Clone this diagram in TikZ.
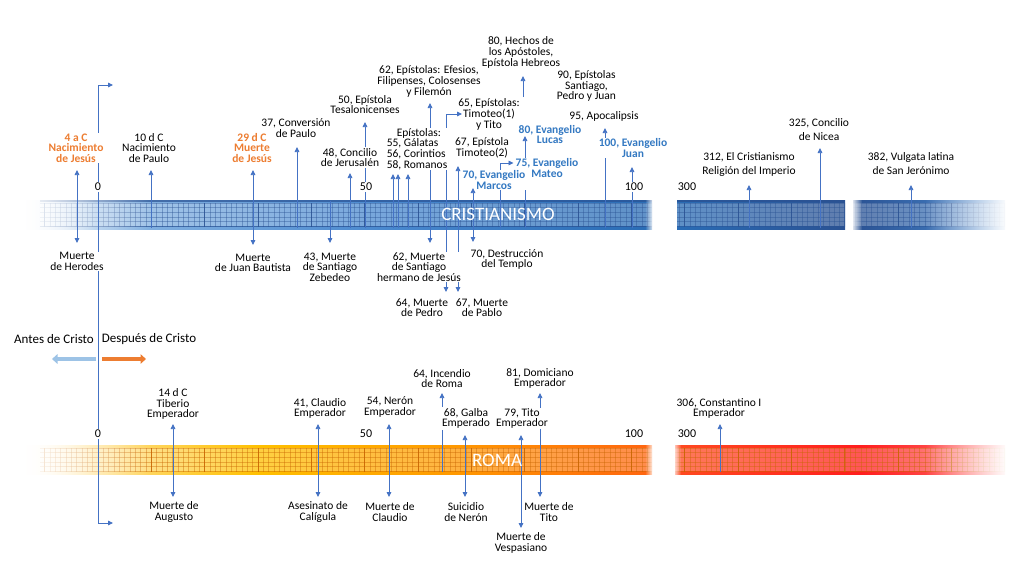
\documentclass[tikz,border=0pt]{standalone}
\usepackage{fontspec}
\setmainfont{Carlito}
\usetikzlibrary{arrows.meta,fadings}
\pgfdeclarelayer{bars}
\pgfdeclarelayer{lines}
\pgfdeclarelayer{front}
\pgfsetlayers{bars,lines,main,front}
\definecolor{cb1}{HTML}{8DB8E4}
\definecolor{cb2}{HTML}{4A89CF}
\definecolor{cb3}{HTML}{2A6CB5}
\definecolor{cb4}{HTML}{2A5293}
\definecolor{ro1}{HTML}{FFE08A}
\definecolor{ro2}{HTML}{FFC000}
\definecolor{ro3}{HTML}{FF9A00}
\definecolor{ro4}{HTML}{FF6410}
\definecolor{rr1}{HTML}{FF4A20}
\definecolor{rr2}{HTML}{FF1E1E}
\definecolor{rr3}{HTML}{FF7070}
\definecolor{roG}{HTML}{C86400}
\definecolor{lnc}{HTML}{4472C4}
\definecolor{orangeT}{HTML}{ED7D31}
\definecolor{blueT}{HTML}{3479C2}
\definecolor{ltblue}{HTML}{9DC3E6}
\tikzfading[name=fadeR, left color=transparent!0, right color=transparent!100]
\tikzfading[name=fadeL, left color=transparent!100, right color=transparent!0]
\tikzset{
  lbl/.style={font=\fontsize{11.5}{10.6}\selectfont, align=center, inner sep=0.8pt, text=black},
  hide/.style={fill=white},
  wide/.style={font=\fontsize{11.5}{14}\selectfont},
  org/.style={text=orangeT, font=\fontsize{11.5}{10.6}\selectfont\bfseries},
  blu/.style={text=blueT, font=\fontsize{11.5}{10.6}\selectfont\bfseries},
  yr/.style={font=\fontsize{12}{12}\selectfont, fill=white, inner sep=0.6pt},
  conn/.style={draw=lnc, line width=0.75pt, -{Triangle[length=5pt,width=4.6pt]}},
  conn2/.style={draw=lnc, line width=0.75pt, {Triangle[length=5pt,width=4.6pt]}-{Triangle[length=5pt,width=4.6pt]}},
  era/.style={font=\fontsize{13}{13}\selectfont, inner sep=0.5pt},
  bartitle/.style={font=\fontsize{19}{19}\selectfont, text=white, inner sep=0pt},
}
\newcommand\tlgrid[4]{%
  \begin{scope}
    \clip (#1,#3+3) rectangle (#2,#3+26);
    \fill[white,opacity=0.25] (#1,#3+3) rectangle (#2,#3+26);
    \foreach \k in {-10,...,170} {\draw[#4,opacity=0.4,line width=0.35pt] ({98+\k*5.3333},#3) -- ++(0,29);}
    \foreach \h in {3,7.6,12.2,16.8,21.4,26} {\draw[#4,opacity=0.4,line width=0.35pt] (#1,#3+\h) -- (#2,#3+\h);}
    \foreach \k in {-1,...,17} {\draw[#4,opacity=0.8,line width=0.9pt] ({98+\k*53.333},#3) -- ++(0,29);}
  \end{scope}}
\newcommand\vlink[5]{\coordinate (#1a) at (#2,#3); \coordinate (#1b) at (#2,#4); \draw[#5] (#1a) -- (#1b);}
\begin{document}
\begin{tikzpicture}[x=1pt,y=-1pt]
\useasboundingbox (0,0) rectangle (1024,576);
\begin{pgfonlayer}{bars}
\fill[white] (0,0) rectangle (1024,576);
% Cristianismo
\shade[left color=white,right color=cb1] (25,200) rectangle (95,229);
\shade[left color=cb1,right color=cb2] (95,200) rectangle (380,229);
\shade[left color=cb2,right color=cb3] (380,200) rectangle (652,229);
\tlgrid{40}{652}{200}{cb4}
\draw[cb4,opacity=0.7,line width=1.8pt] (40,201) -- (652,201);
\draw[cb4,opacity=0.5,line width=0.8pt] (40,226) -- (652,226);
\fill[white,path fading=fadeR] (20,196) rectangle (150,233);
\fill[white,path fading=fadeL] (645,196) rectangle (654,233);
\shade[left color=cb3,right color=cb4] (677,200) rectangle (845,229);
\tlgrid{677}{845}{200}{cb4}
\draw[cb4,opacity=0.8,line width=1.8pt] (677,201) -- (845,201);
\shade[left color=cb4,right color=cb2] (853,200) rectangle (1005,229);
\tlgrid{853}{1005}{200}{cb4}
\fill[white,path fading=fadeL] (925,196) rectangle (1008,233);
\fill[white,path fading=fadeR] (851,196) rectangle (862,233);
% Roma
\shade[left color=white,right color=ro1] (25,445) rectangle (95,474);
\shade[left color=ro1,right color=ro2] (95,445) rectangle (260,474);
\shade[left color=ro2,right color=ro3] (260,445) rectangle (450,474);
\shade[left color=ro3,right color=ro4] (450,445) rectangle (652,474);
\tlgrid{40}{652}{445}{roG}
\fill[white,path fading=fadeR] (20,441) rectangle (150,478);
\fill[white,path fading=fadeL] (645,441) rectangle (654,478);
\shade[left color=rr1,right color=rr2] (675,445) rectangle (860,474);
\shade[left color=rr2,right color=rr3] (860,445) rectangle (1005,474);
\tlgrid{675}{1005}{445}{roG}
\fill[white,path fading=fadeL] (925,441) rectangle (1008,478);
\fill[white,path fading=fadeR] (672,441) rectangle (681,478);
\end{pgfonlayer}

% year labels
\node[yr] (c0) at (98,187) {0};
\node[yr] (c50) at (366,187) {50};
\node[yr] (c100) at (634,187) {100};
\node[yr] (c300) at (687,187) {300};
\node[yr] (r0) at (98,434) {0};
\node[yr] (r50) at (366,434) {50};
\node[yr] (r100) at (634,434) {100};
\node[yr] (r300) at (687,434) {300};

% Cristianismo, above
\node[lbl,org,hide] (jesusN) at (76,148) {4 a C\\Nacimiento\\de Jesús};
\node[lbl] (pauloN) at (149,148) {10 d C\\Nacimiento\\de Paulo};
\node[lbl,org] (jesusM) at (252,148) {29 d C\\Muerte\\de Jesús};
\node[lbl] (conv) at (296,128) {37, Conversión\\de Paulo};
\node[lbl,hide] (conc) at (350,157.5) {48, Concilio\\de Jerusalén};
\node[lbl] (tes) at (365,104.5) {50, Epístola\\Tesalonicenses};
\node[lbl,align=left,hide] (epis) at (417,149) {\hspace*{10pt}Epístolas:\\55, Gálatas\\56, Corintios\\58, Romanos};
\node[lbl] (efes) at (429,81.5) {62, Epístolas: Efesios,\\Filipenses, Colosenses\\y Filemón};
\node[lbl] (timo1) at (489,114.5) {65, Epístolas:\\Timoteo(1)\\y Tito};
\node[lbl] (timo2) at (482,148) {67, Epístola\\Timoteo(2)};
\node[lbl,blu,hide,inner xsep=0pt] (mateo) at (547,168) {75, Evangelio\\Mateo};
\node[lbl,blu,hide] (marcos) at (494,180) {70, Evangelio\\Marcos};
\node[lbl,blu] (lucas) at (550,134.5) {80, Evangelio\\Lucas};
\node[lbl] (hechos) at (521,52.5) {80, Hechos de\\los Apóstoles,\\Epístola Hebreos};
\node[lbl] (sant) at (586.5,86) {90, Epístolas\\Santiago,\\Pedro y Juan};
\node[lbl] (apoc) at (604,116) {95, Apocalipsis};
\node[lbl,blu,hide] (juan) at (633,148) {100, Evangelio\\Juan};
\node[lbl,wide] (relig) at (749,164) {312, El Cristianismo\\Religión del Imperio};
\node[lbl,wide] (nicea) at (819,130) {325, Concilio\\de Nicea};
\node[lbl,wide] (vulg) at (911,164) {382, Vulgata latina\\de San Jerónimo};

% Cristianismo, below
\node[lbl,hide] (herod) at (77,261.5) {Muerte\\de Herodes};
\node[lbl] (bautista) at (253,263) {Muerte\\de Juan Bautista};
\node[lbl] (zeb) at (330,267) {43, Muerte\\de Santiago\\Zebedeo};
\node[lbl,hide] (santh) at (419,267) {62, Muerte\\de Santiago\\hermano de Jesús};
\node[lbl] (pedro) at (422,307.5) {64, Muerte\\de Pedro};
\node[lbl] (pablo) at (482,307.5) {67, Muerte\\de Pablo};
\node[lbl] (templo) at (507,259.5) {70, Destrucción\\del Templo};

% eras
\node[era] (antes) at (54,339) {Antes de Cristo};
\node[era] (despues) at (149,339) {Después de Cristo};
\coordinate (ab1) at (96,359); \coordinate (ab2) at (52,359);
\coordinate (ao1) at (102,359); \coordinate (ao2) at (146,359);
\draw[ltblue,line width=4.3pt,-{Triangle[length=5.5pt,width=9.5pt]}] (ab1) -- (ab2);
\draw[orangeT,line width=4.3pt,-{Triangle[length=5.5pt,width=9.5pt]}] (ao1) -- (ao2);

% Roma, above
\node[lbl] (tib) at (173,404) {14 d C\\Tiberio\\Emperador};
\node[lbl] (claud) at (320,408.5) {41, Claudio\\Emperador};
\node[lbl] (neron) at (390,407) {54, Nerón\\Emperador};
\node[lbl] (incendio) at (442,378.5) {64, Incendio\\de Roma};
\node[lbl,hide] (galba) at (466,418.5) {68, Galba\\Emperado};
\node[lbl,hide] (tito) at (522,418.5) {79, Tito\\Emperador};
\node[lbl] (domic) at (540,378.5) {81, Domiciano\\Emperador};
\node[lbl] (const) at (719,408.5) {306, Constantino I\\Emperador};
% Roma, below
\node[lbl] (aug) at (174,512) {Muerte de\\Augusto};
\node[lbl] (calig) at (318,512) {Asesinato de\\Calígula};
\node[lbl] (mclaud) at (390,512) {Muerte de\\Claudio};
\node[lbl] (suic) at (466,512) {Suicidio\\de Nerón};
\node[lbl] (vesp) at (521,543) {Muerte de\\Vespasiano};
\node[lbl] (mtito) at (549,512) {Muerte de\\Tito};

\begin{pgfonlayer}{lines}
\coordinate (z1) at (113,85); \coordinate (z2) at (98,85);
\coordinate (z3) at (98,523); \coordinate (z4) at (113,523);
\draw[conn2] (z1) -- (z2) -- (z3) -- (z4);
\vlink{c1}{77}{243}{170}{conn2}
\vlink{c2}{151}{228}{170}{conn}
\vlink{c3}{253}{245}{170}{conn2}
\vlink{c4}{297}{228}{147}{conn}
\vlink{c5}{330}{201}{243}{conn}
\vlink{c6}{350}{228}{173}{conn}
\vlink{c7}{365}{228}{122}{conn}
\vlink{c8}{393}{228}{174}{conn}
\vlink{c9}{398}{228}{174}{conn}
\vlink{c10}{408}{228}{174}{conn}
\vlink{c11}{430}{243}{103}{conn2}
\coordinate (t65a) at (446,292); \coordinate (t65b) at (446,114); \coordinate (t65c) at (462,114);
\draw[conn2] (t65a) -- (t65b) -- (t65c);
\vlink{c13}{458}{292}{166}{conn2}
\coordinate (t75a) at (500,228); \coordinate (t75b) at (500,163); \coordinate (t75c) at (513.5,163);
\draw[conn] (t75a) -- (t75b) -- (t75c);
\vlink{c16}{525}{228}{136}{conn}
\vlink{c17}{523}{97}{76}{conn}
\vlink{c18}{605}{228}{128}{conn}
\vlink{c19}{632}{228}{167}{conn}
\vlink{c20}{749}{228}{185}{conn}
\vlink{c21}{820}{228}{148}{conn}
\vlink{c22}{911}{228}{185}{conn}
% Roma
\vlink{r1}{173}{497}{424}{conn2}
\vlink{r2}{318}{497}{424}{conn2}
\vlink{r3}{389}{497}{424}{conn2}
\vlink{r4}{442}{472}{393}{conn}
\vlink{r5}{465}{497}{435}{conn2}
\vlink{r6}{521}{528}{435}{conn2}
\vlink{r7}{540}{497}{393}{conn2}
\vlink{r8}{720}{472}{424}{conn}
\end{pgfonlayer}

\begin{pgfonlayer}{front}
\vlink{c14}{473}{242}{188}{conn2}
\node[bartitle] (crist) at (498,214.5) {CRISTIANISMO};
\node[bartitle] (roma) at (497,460) {ROMA};
\end{pgfonlayer}
\end{tikzpicture}
\end{document}
